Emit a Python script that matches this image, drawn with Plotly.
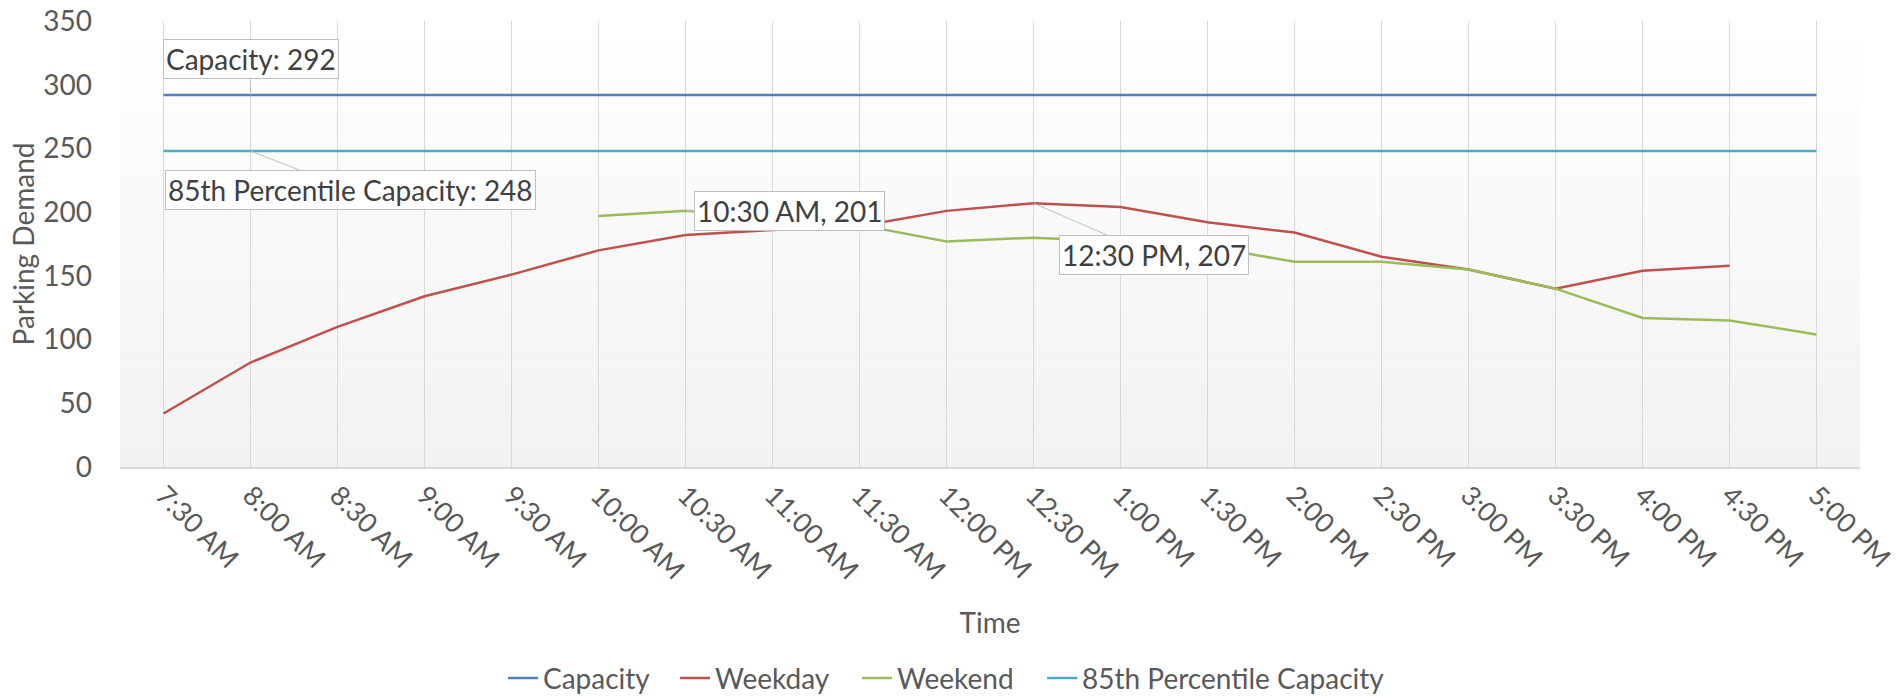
import plotly.graph_objects as go

times = ["7:30 AM", "8:00 AM", "8:30 AM", "9:00 AM", "9:30 AM", "10:00 AM", "10:30 AM",
         "11:00 AM", "11:30 AM", "12:00 PM", "12:30 PM", "1:00 PM", "1:30 PM", "2:00 PM",
         "2:30 PM", "3:00 PM", "3:30 PM", "4:00 PM", "4:30 PM", "5:00 PM"]
weekday = [42, 82, 110, 134, 151, 170, 182, 186, 189, 201, 207, 204, 192, 184,
           165, 155, 140, 154, 158, None]
weekend = [None, None, None, None, None, 197, 201, 196, 190, 177, 180, 177, 173, 161,
           161, 155, 140, 117, 115, 104]
capacity_value = 292
pct85_value = 248
capacity = [capacity_value] * len(times)
pct85 = [pct85_value] * len(times)

series_names = ["Capacity", "Weekday", "Weekend", "85th Percentile Capacity"]
series_colors = ["#4F81BD", "#C0504D", "#9BBB59", "#4BACC6"]
series_values = [capacity, weekday, weekend, pct85]
legend_ids = ["legend", "legend2", "legend3", "legend4"]
legend_x = [0.2201, 0.3190, 0.4236, 0.5299]

FONT = "Lato"
FS = 28
XFS = 27
TXT = "#595959"
ANN_TXT = "#404040"

fig = go.Figure()
for name, color, vals, lid in zip(series_names, series_colors, series_values, legend_ids):
    fig.add_trace(go.Scatter(x=times, y=vals, name=name, mode="lines", legend=lid,
                             line=dict(color=color, width=2.5)))

# gradient background for plot area (white at top -> light gray at bottom)
N = 40
shapes = []
for i in range(N):
    t = (i + 0.5) / N  # 0 bottom, 1 top
    g = int(round(0xF2 + (0xFF - 0xF2) * t))
    shapes.append(dict(type="rect", xref="paper", yref="paper", x0=0, x1=1,
                       y0=i / N, y1=(i + 1) / N, fillcolor=f"rgb({g},{g},{g})",
                       line=dict(width=0), layer="below"))

ann_common = dict(showarrow=True, arrowhead=0, arrowcolor="#bfbfbf", arrowwidth=1,
                  bgcolor="white", bordercolor="#bfbfbf", borderwidth=1, borderpad=2,
                  font=dict(family=FONT, size=FS, color=ANN_TXT), xref="x", yref="y")
annotations = [
    dict(x=times[1], y=capacity_value, text=f"Capacity: {capacity_value}", ax=0, ay=-36, **ann_common),
    dict(x=times[1], y=pct85_value, text=f"85th Percentile Capacity: {pct85_value}", ax=100, ay=39, **ann_common),
    dict(x=times[6], y=weekend[6], text=f"{times[6]}, {weekend[6]}", ax=104, ay=0, **ann_common),
    dict(x=times[10], y=weekday[10], text=f"{times[10]}, {weekday[10]}", ax=120, ay=52, **ann_common),
]

legend_common = dict(orientation="h", xref="paper", yref="paper", y=-0.474,
                     xanchor="left", yanchor="middle",
                     font=dict(family=FONT, size=FS, color=TXT), bgcolor="rgba(0,0,0,0)")
legends = {lid: dict(x=lx, **legend_common) for lid, lx in zip(legend_ids, legend_x)}

fig.update_layout(
    width=1897, height=696,
    margin=dict(l=120, r=37, t=21, b=229, autoexpand=False),
    paper_bgcolor="white", plot_bgcolor="white",
    font=dict(family=FONT, size=FS, color=TXT),
    shapes=shapes, annotations=annotations,
    showlegend=True,
    xaxis=dict(type="category", range=[-0.5, len(times) - 0.5], showgrid=True,
               gridcolor="#d9d9d9", gridwidth=1, showline=True, linecolor="#d9d9d9",
               linewidth=1.5, tickangle=45, ticks="", tickfont=dict(size=XFS, color=TXT),
               automargin=False,
               title=dict(text="Time", font=dict(size=FS, color=TXT), standoff=29)),
    yaxis=dict(range=[0, 350], dtick=50, showgrid=False, zeroline=False, showline=False,
               ticks="", ticklabelstandoff=27, tickfont=dict(size=FS, color=TXT),
               automargin=False,
               title=dict(text="Parking Demand", font=dict(size=FS, color=TXT), standoff=0)),
    **legends,
)

fig.write_html("out.html", post_script="document.body.style.margin='0';",
               config={"displayModeBar": False})
